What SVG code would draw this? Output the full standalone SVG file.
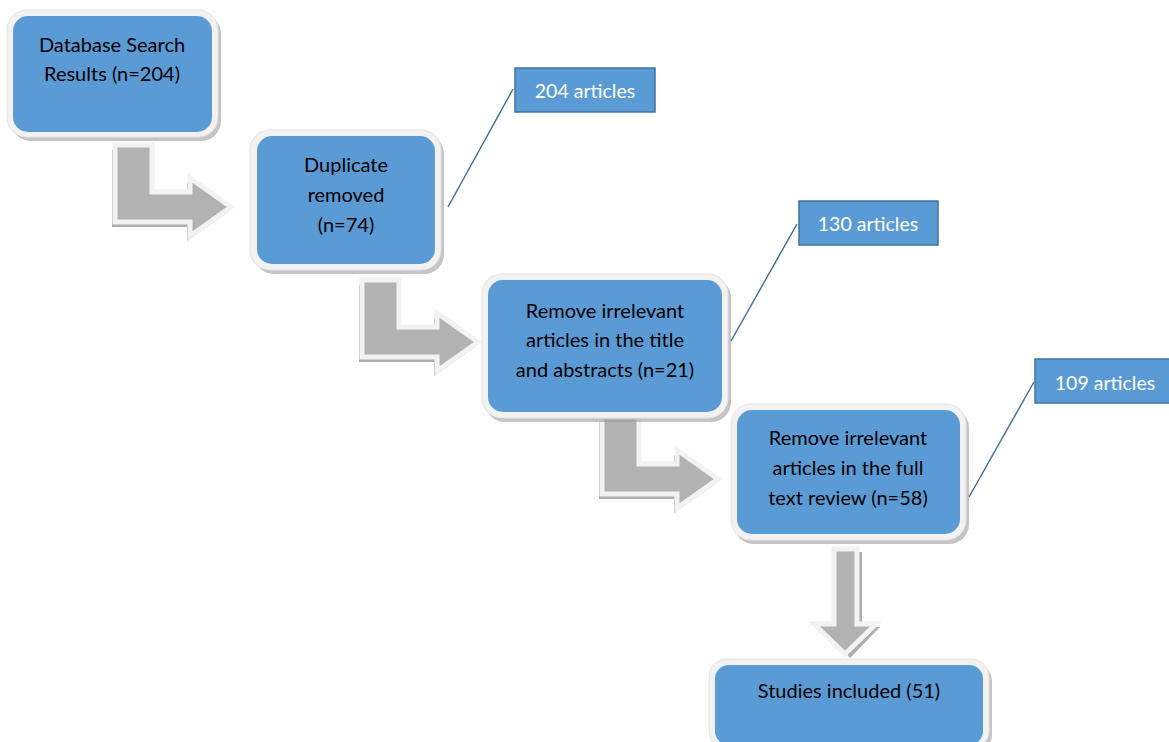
<svg xmlns="http://www.w3.org/2000/svg" width="1169" height="742" viewBox="0 0 1169 742">
<defs>
<style>
.frame{fill:#F2F2F2;stroke:#E3E3E3;stroke-width:1}
.shadow{fill:#9E9E9E;opacity:0.6}
.blue{fill:#5B9BD5}
.t{font-family:Lato,"Open Sans",sans-serif;font-size:20px;fill:#000;text-anchor:middle}
.lbl{fill:#5B9BD5;stroke:#41719C;stroke-width:1.5}
.lt{font-family:Lato,"Open Sans",sans-serif;font-size:19.5px;fill:#FFF;text-anchor:middle}
.arr{fill:#B2B2B2;stroke:#F2F2F2;stroke-width:5;stroke-linejoin:miter}
.arrsh{fill:#8C8C8C;opacity:0.7}
.ln{stroke:#41719C;stroke-width:1.5;fill:none}
</style>
<path id="bent" d="M0,0 H37 V47 H75 V33 L116,62 L75,91 V77 H0 Z"/>
</defs>
<g id="connectors">
<g transform="translate(115,145)"><use href="#bent" class="arrsh" transform="translate(-3,5)"/><use href="#bent" class="arr"/></g>
<g transform="translate(362,280)"><use href="#bent" class="arrsh" transform="translate(-3,5)"/><use href="#bent" class="arr"/></g>
<g transform="translate(602,417)"><use href="#bent" class="arrsh" transform="translate(-3,5)"/><use href="#bent" class="arr"/></g>
<g><path d="M836,550 H860 V625 H878 L848,656 L818,625 H836 Z" class="arrsh" transform="translate(2,2)"/><path d="M834,549 H857 V624 H876 L845,654 L814,624 H834 Z" class="arr"/></g>
<line class="ln" x1="448" y1="207" x2="513" y2="89"/>
<line class="ln" x1="731" y1="341" x2="797" y2="224"/>
<line class="ln" x1="969" y1="497" x2="1034" y2="382"/>
</g>
<g id="n1">
<rect class="shadow" x="11" y="14" width="210" height="127" rx="20"/>
<rect class="frame" x="7" y="10" width="211" height="127" rx="20"/>
<rect class="blue" x="13" y="16" width="199" height="116" rx="15"/>
<text class="t" x="112" y="52">Database Search</text>
<text class="t" x="112" y="81">Results (n=204)</text>
</g>
<g id="n2">
<rect class="shadow" x="254" y="134" width="190" height="140" rx="20"/>
<rect class="frame" x="250" y="130" width="191" height="140" rx="20"/>
<rect class="blue" x="257" y="136" width="178" height="128" rx="15"/>
<text class="t" x="346" y="172">Duplicate</text>
<text class="t" x="346" y="202">removed</text>
<text class="t" x="346" y="232">(n=74)</text>
</g>
<g id="n3">
<rect class="shadow" x="485" y="278" width="246" height="144" rx="20"/>
<rect class="frame" x="482" y="274" width="246" height="144" rx="20"/>
<rect class="blue" x="488" y="280" width="234" height="132" rx="15"/>
<text class="t" x="605" y="318">Remove irrelevant</text>
<text class="t" x="605" y="347">articles in the title</text>
<text class="t" x="605" y="377">and abstracts (n=21)</text>
</g>
<g id="n4">
<rect class="shadow" x="734" y="408" width="235" height="136" rx="20"/>
<rect class="frame" x="731" y="404" width="235" height="136" rx="20"/>
<rect class="blue" x="737" y="410" width="223" height="124" rx="15"/>
<text class="t" x="848" y="445">Remove irrelevant</text>
<text class="t" x="848" y="475">articles in the full</text>
<text class="t" x="848" y="505">text review (n=58)</text>
</g>
<g id="n5">
<rect class="shadow" x="712" y="663" width="280" height="90" rx="18"/>
<rect class="frame" x="709" y="659" width="280" height="90" rx="18"/>
<rect class="blue" x="715" y="665" width="268" height="80" rx="14"/>
<text class="t" x="849" y="698">Studies included (51)</text>
</g>
<g id="l1">
<rect class="lbl" x="515" y="68" width="140" height="44"/>
<text class="lt" x="585" y="98">204 articles</text>
</g>
<g id="l2">
<rect class="lbl" x="799" y="201" width="139" height="44"/>
<text class="lt" x="868" y="231">130 articles</text>
</g>
<g id="l3">
<rect class="lbl" x="1035" y="359" width="140" height="44"/>
<text class="lt" x="1105" y="390">109 articles</text>
</g>
</svg>
